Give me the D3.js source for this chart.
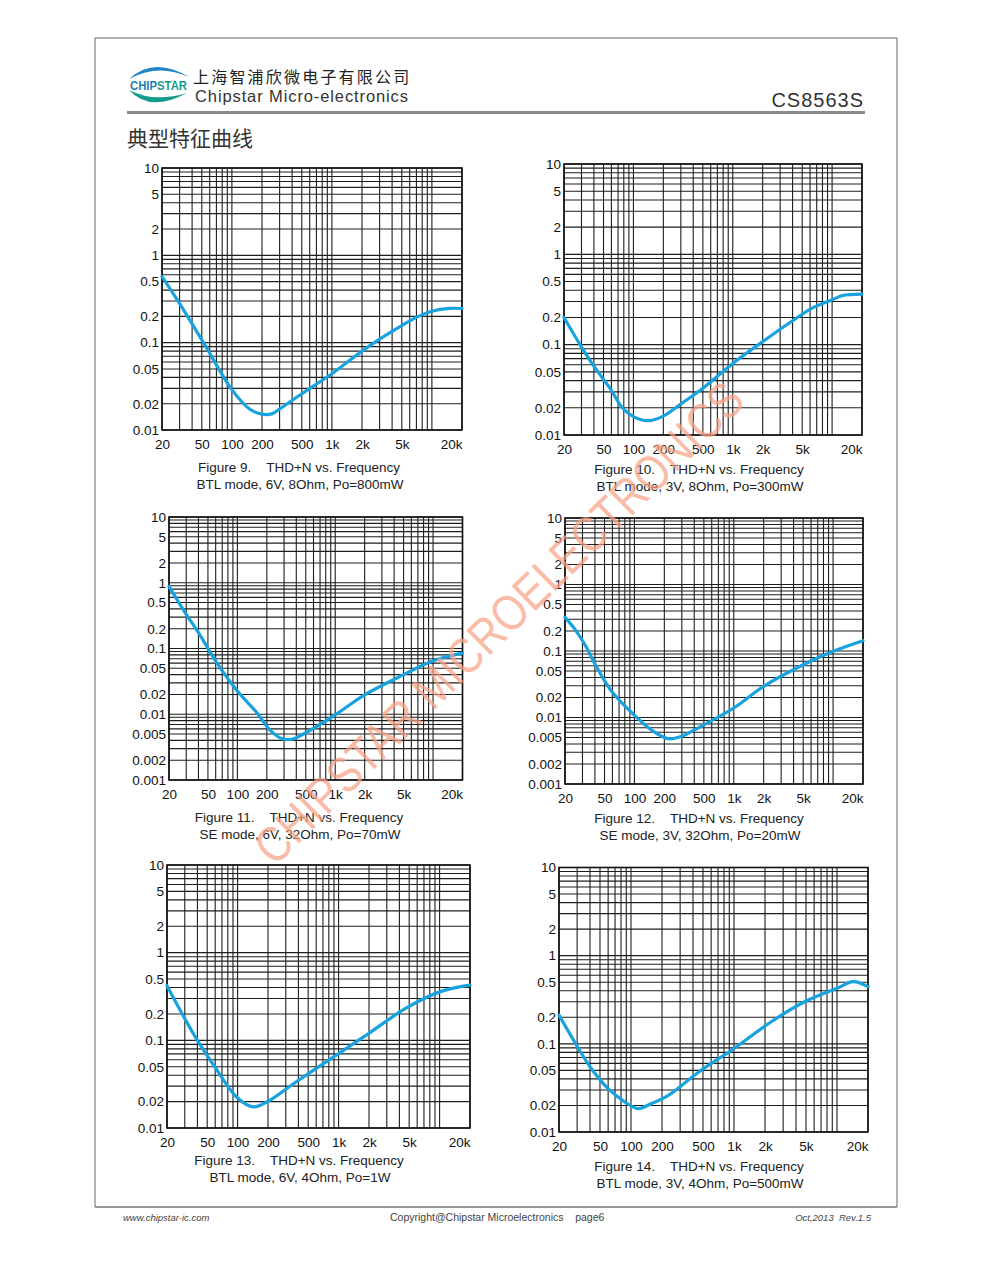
<!DOCTYPE html>
<html>
<head>
<meta charset="utf-8">
<script src="https://cdn.jsdelivr.net/npm/d3@7"></script>
<style>
  body { margin: 0; background: #fff; }
  svg { display: block; font-family: "Liberation Sans", Arial, sans-serif; }
</style>
</head>
<body>
<svg id="page" width="991" height="1275"></svg>
<script>
// THD+N (%) against frequency (Hz)
var fig9Freq  = [20, 30, 52, 100, 150, 200, 250, 300, 500, 1000, 2000, 3000, 5000, 7000, 10000, 15000, 20000];
var fig9Thd   = [0.57, 0.28, 0.10, 0.029, 0.0174, 0.0152, 0.0153, 0.0174, 0.026, 0.044, 0.080, 0.110, 0.157, 0.195, 0.229, 0.247, 0.246];

var fig10Freq = [20, 27, 39, 58, 78, 100, 140, 200, 290, 500, 1000, 2000, 4000, 6300, 10000, 12700, 20000];
var fig10Thd  = [0.2, 0.114, 0.060, 0.033, 0.0198, 0.016, 0.0144, 0.0162, 0.0215, 0.033, 0.062, 0.108, 0.184, 0.254, 0.314, 0.35, 0.363];

var fig11Freq = [20, 30, 40, 61, 100, 156, 214, 292, 370, 485, 1000, 2000, 5000, 10000, 20000];
var fig11Thd  = [0.88, 0.33, 0.175, 0.062, 0.0225, 0.0108, 0.0058, 0.0042, 0.0042, 0.0051, 0.0098, 0.0197, 0.040, 0.065, 0.085];

var fig12Freq = [20, 25, 32, 40, 58, 100, 150, 218, 297, 440, 1000, 2000, 5000, 10000, 20000];
var fig12Thd  = [0.32, 0.215, 0.122, 0.064, 0.0255, 0.0108, 0.0064, 0.0048, 0.0052, 0.0070, 0.0139, 0.0294, 0.062, 0.099, 0.143];

var fig13Freq = [20, 30, 40, 58, 100, 143, 208, 378, 1000, 1930, 4600, 10000, 20000];
var fig13Thd  = [0.42, 0.177, 0.10, 0.052, 0.022, 0.0174, 0.0207, 0.0335, 0.0706, 0.117, 0.231, 0.357, 0.426];

var fig14Freq = [20, 26.5, 40, 60, 87, 117, 158, 230, 455, 1000, 2300, 4850, 10000, 14300, 20000];
var fig14Thd  = [0.212, 0.12, 0.055, 0.031, 0.022, 0.0184, 0.021, 0.026, 0.048, 0.0885, 0.178, 0.30, 0.426, 0.507, 0.445];

// tick labels
var xTickValues = [20, 50, 100, 200, 500, 1000, 2000, 5000, 20000];
var xTickLabels = ['20', '50', '100', '200', '500', '1k', '2k', '5k', '20k'];
var yTicks3 = [10, 5, 2, 1, 0.5, 0.2, 0.1, 0.05, 0.02, 0.01];
var yTicks4 = [10, 5, 2, 1, 0.5, 0.2, 0.1, 0.05, 0.02, 0.01, 0.005, 0.002, 0.001];

// captions
var figNames = ['Figure 9.', 'Figure 10.', 'Figure 11.', 'Figure 12.', 'Figure 13.', 'Figure 14.'];
var figTitle = 'THD+N vs. Frequency';
var figConditions = [
  'BTL mode, 6V, 8Ohm, Po=800mW',
  'BTL mode, 3V, 8Ohm, Po=300mW',
  'SE mode, 6V, 32Ohm, Po=70mW',
  'SE mode, 3V, 32Ohm, Po=20mW',
  'BTL mode, 6V, 4Ohm, Po=1W',
  'BTL mode, 3V, 4Ohm, Po=500mW'
];

// panel boxes on the page
var panels = [
  { freq: fig9Freq,  thd: fig9Thd,  yTicks: yTicks3, box: [162, 168, 462, 430],   cx: 299, capY: 472 },
  { freq: fig10Freq, thd: fig10Thd, yTicks: yTicks3, box: [564, 164, 862, 435],   cx: 699, capY: 474 },
  { freq: fig11Freq, thd: fig11Thd, yTicks: yTicks4, box: [169, 517, 462.5, 780], cx: 299, capY: 822 },
  { freq: fig12Freq, thd: fig12Thd, yTicks: yTicks4, box: [565, 518, 863, 784],   cx: 699, capY: 823 },
  { freq: fig13Freq, thd: fig13Thd, yTicks: yTicks3, box: [167, 865, 470, 1128],  cx: 299, capY: 1165 },
  { freq: fig14Freq, thd: fig14Thd, yTicks: yTicks3, box: [559, 867.5, 868, 1132], cx: 699, capY: 1171 }
];

var svg = d3.select('#page');
var ink = '#333';

// page frame
svg.append('path')
  .attr('d', 'M95,1207 V38 H897 V1207')
  .attr('fill', 'none').attr('stroke', '#666').attr('stroke-width', 1);
svg.append('line')
  .attr('x1', 95).attr('x2', 897).attr('y1', 1207).attr('y2', 1207)
  .attr('stroke', '#777').attr('stroke-width', 1.6);

// header: logo
var logo = svg.append('g');
logo.append('path')
  .attr('d', 'M129,79 Q154,56 189,77 Q158,63 129,79 Z')
  .attr('fill', '#1e86c6');
logo.append('path')
  .attr('d', 'M129,90 Q150,113 187,93 Q154,103 129,90 Z')
  .attr('fill', '#169c8c');
var logoText = logo.append('text')
  .attr('x', 130).attr('y', 89.5)
  .attr('font-size', 12).attr('font-weight', 'bold')
  .attr('textLength', 57).attr('lengthAdjust', 'spacingAndGlyphs');
logoText.append('tspan').attr('fill', '#1a7fb8').text('CHIP');
logoText.append('tspan').attr('fill', '#17998d').text('STAR');

svg.append('text')
  .attr('x', 193).attr('y', 83)
  .attr('font-family', '"Noto Sans CJK SC", sans-serif')
  .attr('font-size', 16).attr('letter-spacing', 2.2)
  .attr('fill', '#222')
  .text('上海智浦欣微电子有限公司');
svg.append('text')
  .attr('x', 195).attr('y', 101.5)
  .attr('font-size', 16.5)
  .attr('textLength', 213).attr('lengthAdjust', 'spacing')
  .attr('fill', ink)
  .text('Chipstar Micro-electronics');
svg.append('text')
  .attr('x', 864).attr('y', 106.5)
  .attr('text-anchor', 'end')
  .attr('font-size', 20).attr('letter-spacing', 1)
  .attr('fill', ink)
  .text('CS8563S');
svg.append('line')
  .attr('x1', 127).attr('x2', 865).attr('y1', 112.5).attr('y2', 112.5)
  .attr('stroke', '#8a8a8e').attr('stroke-width', 3);
svg.append('text')
  .attr('x', 127).attr('y', 145.5)
  .attr('font-family', '"Noto Sans CJK SC", sans-serif')
  .attr('font-size', 21)
  .attr('fill', ink)
  .text('典型特征曲线');

// footer
svg.append('text')
  .attr('x', 123).attr('y', 1221)
  .attr('font-size', 9.5).attr('font-style', 'italic').attr('fill', '#444')
  .text('www.chipstar-ic.com');
svg.append('text')
  .attr('x', 390).attr('y', 1221)
  .attr('font-size', 10.5).attr('fill', '#444')
  .style('white-space', 'pre')
  .text('Copyright@Chipstar Microelectronics    page6');
svg.append('text')
  .attr('x', 871).attr('y', 1221)
  .attr('text-anchor', 'end')
  .attr('font-size', 9.5).attr('font-style', 'italic').attr('fill', '#444')
  .style('white-space', 'pre')
  .text('Oct,2013  Rev.1.5');

function formatFreq(d) {
  var i = xTickValues.indexOf(d);
  return i >= 0 ? xTickLabels[i] : '';
}

function drawPanel(p, k) {
  var b = p.box;
  var yMin = p.yTicks[p.yTicks.length - 1];
  var x = d3.scaleLog().domain([20, 20000]).range([b[0], b[2]]);
  var y = d3.scaleLog().domain([yMin, 10]).range([b[3], b[1]]);
  var g = svg.append('g');

  // log grid
  g.append('g').selectAll('line').data(x.ticks())
    .join('line')
    .attr('x1', function (d) { return x(d); }).attr('x2', function (d) { return x(d); })
    .attr('y1', b[1]).attr('y2', b[3])
    .attr('stroke', '#1e1e1e').attr('stroke-width', 1.1);
  g.append('g').selectAll('line').data(y.ticks())
    .join('line')
    .attr('y1', function (d) { return y(d); }).attr('y2', function (d) { return y(d); })
    .attr('x1', b[0]).attr('x2', b[2])
    .attr('stroke', '#1e1e1e').attr('stroke-width', 1.1);
  g.append('rect')
    .attr('x', b[0]).attr('y', b[1])
    .attr('width', b[2] - b[0]).attr('height', b[3] - b[1])
    .attr('fill', 'none').attr('stroke', '#111').attr('stroke-width', 1.6);

  // axes labels
  var xAxis = g.append('g')
    .attr('transform', 'translate(0,' + b[3] + ')')
    .call(d3.axisBottom(x).tickValues(xTickValues).tickFormat(formatFreq).tickSize(0).tickPadding(9));
  var yAxis = g.append('g')
    .attr('transform', 'translate(' + b[0] + ',0)')
    .call(d3.axisLeft(y).tickValues(p.yTicks).tickFormat(function (d) { return String(d); }).tickSize(0).tickPadding(3));
  [xAxis, yAxis].forEach(function (a) {
    a.select('.domain').remove();
    a.selectAll('text').attr('font-size', 13.5).attr('fill', '#111')
      .attr('font-family', '"Liberation Sans", Arial, sans-serif');
  });
  xAxis.selectAll('.tick text').filter(function (d) { return d === 20000; })
    .attr('text-anchor', 'end');

  // curve
  var line = d3.line()
    .x(function (d) { return x(d[0]); })
    .y(function (d) { return y(d[1]); })
    .curve(d3.curveCatmullRom.alpha(0.5));
  g.append('path')
    .datum(d3.zip(p.freq, p.thd))
    .attr('d', line)
    .attr('fill', 'none')
    .attr('stroke', '#17a2e0')
    .attr('stroke-width', 3.2)
    .attr('stroke-linejoin', 'round')
    .attr('stroke-linecap', 'round');

  // caption
  var cap = g.append('text')
    .attr('x', p.cx).attr('y', p.capY)
    .attr('text-anchor', 'middle')
    .attr('font-size', 13.5).attr('fill', '#222');
  cap.append('tspan').text(figNames[k]);
  cap.append('tspan').attr('dx', 15).text(figTitle);
  g.append('text')
    .attr('x', p.cx + 1).attr('y', p.capY + 16.5)
    .attr('text-anchor', 'middle')
    .attr('font-size', 13.5).attr('fill', '#222')
    .text(figConditions[k]);
}

panels.forEach(drawPanel);

// watermark across the page
svg.append('text')
  .attr('transform', 'translate(499,623) rotate(-44.5)')
  .attr('text-anchor', 'middle')
  .attr('dominant-baseline', 'central')
  .attr('font-size', 50)
  .attr('textLength', 662).attr('lengthAdjust', 'spacingAndGlyphs')
  .attr('fill', '#f7a285').attr('fill-opacity', 0.72)
  .text('CHIPSTAR MICROELECTRONICS');
</script>
</body>
</html>
